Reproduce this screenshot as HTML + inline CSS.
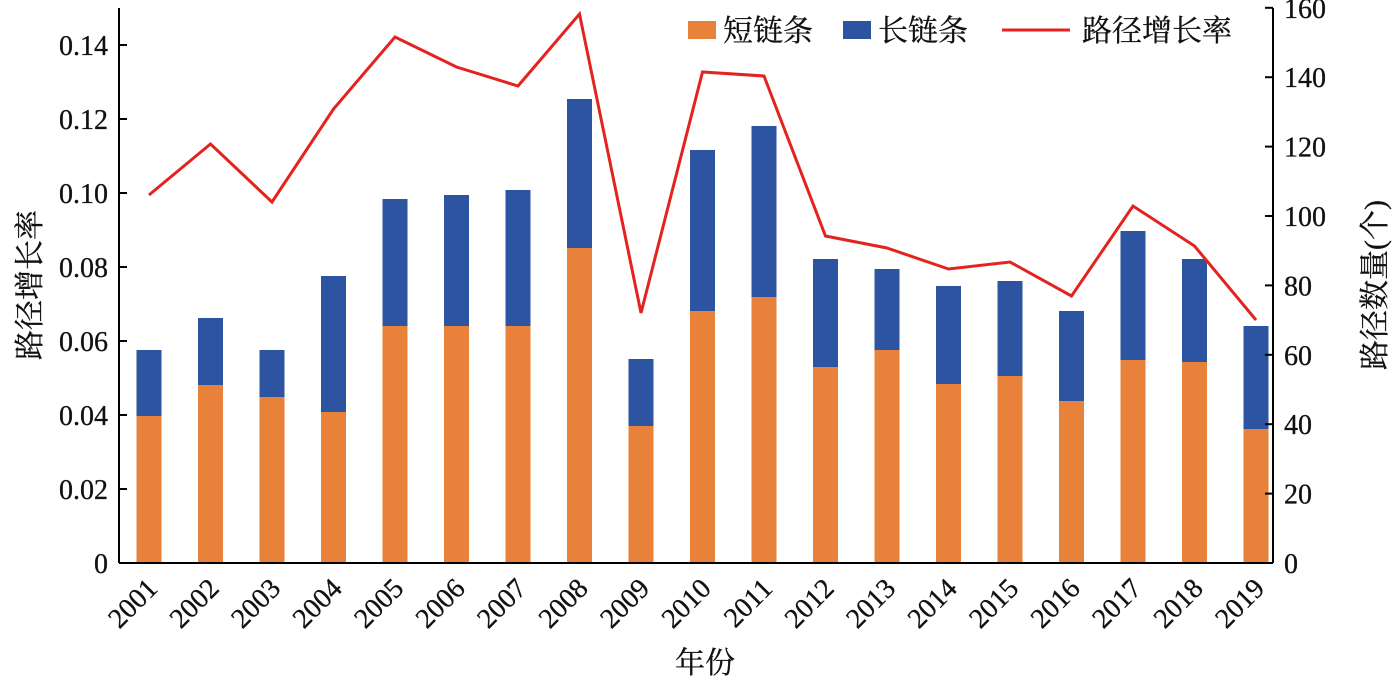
<!DOCTYPE html>
<html><head><meta charset="utf-8"><style>
body{margin:0;background:#fff}
text{font-family:"Liberation Serif","Noto Serif CJK SC",serif;fill:#111;stroke:#111;stroke-width:0.3}
</style></head><body>
<svg width="1400" height="681" viewBox="0 0 1400 681" xmlns="http://www.w3.org/2000/svg">
<g id="bars"></g>
<g stroke="#000" stroke-width="2" fill="none">
<line x1="119" y1="8" x2="119" y2="563"/>
<line x1="1273" y1="8" x2="1273" y2="563"/>
<line x1="119" y1="563" x2="1273" y2="563"/>
</g>
<g id="ticks" stroke="#000" stroke-width="2"></g>
<g id="lbl" font-size="28"></g>
<polyline id="ln" fill="none" stroke="#e3231f" stroke-width="3"/>
<text x="40" y="285" font-size="30" transform="rotate(-90 40 285)" text-anchor="middle">路径增长率</text>
<text x="1385" y="285" font-size="30" transform="rotate(-90 1385 285)" text-anchor="middle">路径数量(个)</text>
<text x="705" y="673" font-size="30" text-anchor="middle">年份</text>
<rect x="688" y="21" width="28" height="18" fill="#e8823a"/>
<text x="723" y="41" font-size="30">短链条</text>
<rect x="843" y="21" width="28" height="18" fill="#2c54a0"/>
<text x="878" y="41" font-size="30">长链条</text>
<line x1="1002" y1="30" x2="1070" y2="30" stroke="#e3231f" stroke-width="3"/>
<text x="1082" y="41" font-size="30">路径增长率</text>
<script>
var o=[416,385,397,412,326,326,326,248,426,311,297,367,350,384,376,401,360,362,429];
var b=[350,318,350,276,199,195,190,99,359,150,126,259,269,286,281,311,231,259,326];
var l=[195,144,202,109,37,67,86,14,313,72,76,236,248,269,262,296,206,246,320];
var ns="http://www.w3.org/2000/svg",g=document.getElementById('bars'),t=document.getElementById('ticks'),lb=document.getElementById('lbl'),pts=[];
function el(p,n,a,txt){var e=document.createElementNS(ns,n);for(var k in a)e.setAttribute(k,a[k]);if(txt)e.textContent=txt;p.appendChild(e);return e;}
for(var i=0;i<19;i++){var x=149+i*61.5;
el(g,'rect',{x:x-12.5,y:b[i],width:25,height:o[i]-b[i],fill:'#2c54a0'});
el(g,'rect',{x:x-12.5,y:o[i],width:25,height:563-o[i],fill:'#e8823a'});
pts.push(x+','+l[i]);
el(lb,'text',{x:x+10,y:590,'text-anchor':'end',transform:'rotate(-45 '+(x+10)+' 590)'},String(2001+i));
}
document.getElementById('ln').setAttribute('points',pts.join(' '));
var L=['0','0.02','0.04','0.06','0.08','0.10','0.12','0.14'];
for(var j=0;j<8;j++){var y=563-j*74;el(t,'line',{x1:119,y1:y,x2:127,y2:y});el(lb,'text',{x:108,y:y+10,'text-anchor':'end'},L[j]);}
for(var j=0;j<9;j++){var y=563-j*69.4;el(t,'line',{x1:1265,y1:y,x2:1273,y2:y});el(lb,'text',{x:1284,y:y+10},String(j*20));}
</script>
</svg>
</body></html>
